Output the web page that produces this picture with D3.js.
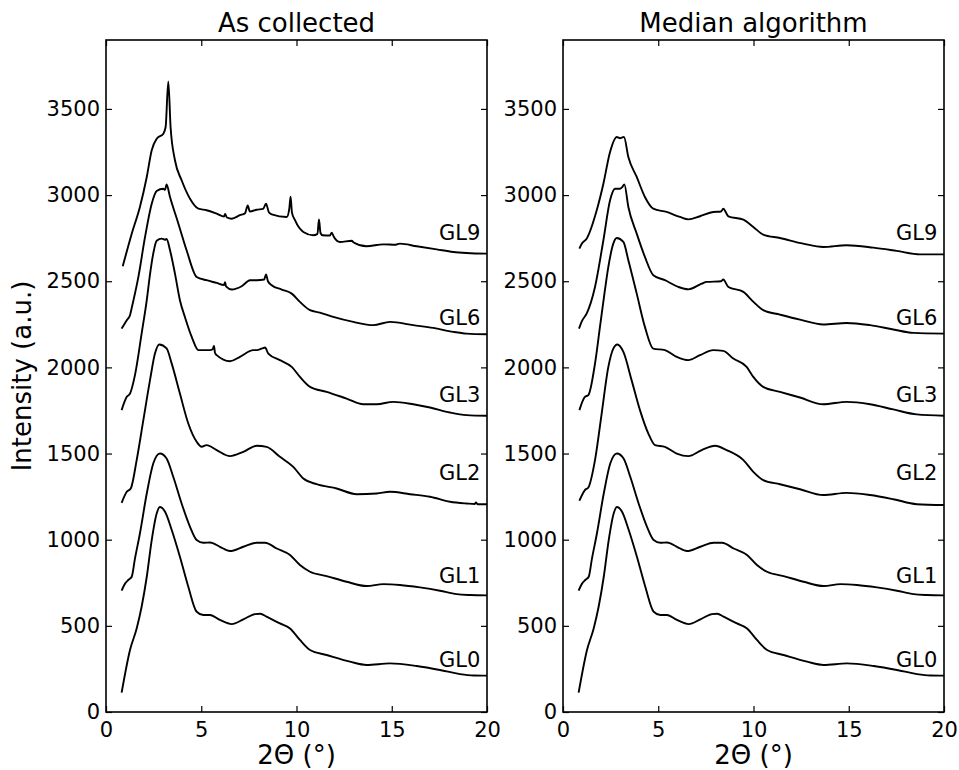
<!DOCTYPE html>
<html>
<head>
<meta charset="utf-8">
<script src="https://cdn.jsdelivr.net/npm/d3@7"></script>
<style>
  body { margin: 0; background: #fff; }
  text { font-family: "DejaVu Sans", sans-serif; }
</style>
</head>
<body>
<div id="chart"></div>
<script>
// 2Θ / intensity pairs
var gl0 = [[0.82,112],[1.26,360],[1.61,485],[1.87,611],[2.14,785],[2.4,998],[2.66,1152],[2.83,1190],[3.1,1162],[3.45,1056],[3.88,901],[4.32,727],[4.76,582],[5.11,563],[5.46,563],[5.98,534],[6.6,510],[7.21,538],[7.82,568],[8.1,570],[8.43,553],[9.13,514],[9.66,485],[10.18,418],[10.71,360],[11.58,331],[12.81,292],[13.68,273],[14.91,282],[16.31,267],[17.53,244],[18.58,220],[19.3,212],[20,211]];
var gl1 = [[0.82,704],[1.0,745],[1.17,766],[1.35,785],[1.52,890],[1.78,1036],[2.14,1268],[2.48,1442],[2.83,1500],[3.18,1471],[3.53,1365],[3.97,1210],[4.41,1075],[4.76,998],[5.11,982],[5.46,984],[5.98,959],[6.51,934],[7.21,959],[7.91,982],[8.35,982],[8.96,949],[9.66,911],[10.18,853],[10.71,814],[11.58,789],[12.63,756],[13.68,731],[14.56,742],[15.43,737],[16.48,723],[17.53,704],[18.41,684],[19.11,679],[20,677]];

// "As collected"
var rawGL2 = [[0.82,1214],[1.09,1278],[1.3,1297],[1.61,1462],[1.96,1694],[2.31,1926],[2.57,2080],[2.8,2133],[3.18,2110],[3.45,2022],[3.88,1848],[4.32,1674],[4.76,1568],[5.02,1539],[5.28,1549],[5.81,1520],[6.51,1485],[7.21,1510],[7.91,1545],[8.43,1539],[9.13,1481],[9.83,1423],[10.36,1355],[11.06,1322],[12.11,1297],[13.16,1264],[14.21,1268],[14.91,1278],[15.96,1264],[17.01,1249],[18.06,1220],[18.93,1210],[19.35,1207],[19.42,1216],[19.5,1206],[20,1206]];
var rawGL3 = [[0.82,1752],[1.09,1829],[1.26,1848],[1.52,1955],[1.87,2196],[2.14,2390],[2.31,2540],[2.48,2660],[2.66,2735],[2.92,2747],[3.1,2741],[3.18,2745],[3.36,2680],[3.62,2544],[3.88,2390],[4.15,2290],[4.5,2177],[4.85,2100],[5.46,2100],[5.6,2105],[5.67,2125],[5.72,2085],[5.81,2071],[6.51,2036],[7.03,2061],[7.73,2100],[7.91,2100],[8.2,2110],[8.35,2115],[8.52,2080],[9.13,2042],[9.75,2003],[10.18,1945],[10.71,1887],[11.58,1858],[12.63,1819],[13.51,1786],[14.21,1786],[15.08,1800],[16.13,1786],[17.01,1767],[18.06,1738],[18.93,1723],[20,1719]];
var rawGL6 = [[0.82,2225],[1.09,2274],[1.26,2303],[1.35,2345],[1.7,2525],[2.05,2757],[2.4,2950],[2.66,3024],[3.01,3037],[3.1,3030],[3.18,3062],[3.36,2989],[3.8,2834],[4.23,2680],[4.76,2525],[5.28,2506],[5.81,2490],[6.2,2478],[6.25,2495],[6.3,2470],[6.6,2452],[7.12,2471],[7.56,2506],[7.91,2506],[8.3,2510],[8.4,2540],[8.5,2500],[8.7,2477],[9.22,2452],[9.75,2428],[10.18,2380],[10.71,2332],[11.23,2318],[11.93,2293],[12.98,2264],[14.03,2245],[14.91,2264],[16.13,2245],[17.18,2229],[18.23,2206],[18.93,2196],[20,2192]];
var rawGL9 = [[0.88,2587],[1.35,2776],[1.78,2931],[2.14,3105],[2.4,3260],[2.66,3327],[3.01,3356],[3.13,3395],[3.27,3660],[3.39,3395],[3.62,3202],[3.97,3086],[4.41,2979],[4.85,2921],[5.28,2912],[5.81,2892],[6.2,2875],[6.25,2890],[6.35,2870],[6.6,2863],[7.03,2883],[7.3,2895],[7.44,2940],[7.55,2905],[7.91,2915],[8.25,2920],[8.4,2950],[8.55,2900],[8.7,2888],[9.49,2873],[9.62,2920],[9.69,2990],[9.76,2900],[9.92,2854],[10.36,2786],[10.88,2767],[11.1,2775],[11.18,2858],[11.26,2780],[11.37,2767],[11.75,2765],[11.85,2782],[11.95,2760],[12.28,2728],[12.9,2735],[13.0,2725],[13.68,2703],[14.56,2714],[15.2,2712],[15.43,2718],[16.31,2703],[17.36,2685],[18.23,2670],[18.93,2664],[20,2660]];

// "Median algorithm"
var medGL2 = [[0.86,1226],[1.15,1288],[1.33,1303],[1.68,1462],[2.03,1732],[2.38,2003],[2.64,2109],[2.85,2133],[3.17,2090],[3.6,1926],[4.04,1752],[4.48,1616],[4.83,1549],[5.35,1539],[5.97,1500],[6.58,1485],[7.28,1520],[7.98,1545],[8.59,1520],[9.47,1462],[9.99,1394],[10.51,1346],[11.39,1322],[12.44,1293],[13.66,1259],[14.89,1272],[16.12,1259],[17.34,1235],[18.57,1206],[20,1201]];
var medGL3 = [[0.86,1752],[1.15,1829],[1.33,1839],[1.68,2022],[1.94,2235],[2.2,2448],[2.38,2583],[2.64,2718],[2.82,2751],[3.17,2728],[3.43,2622],[3.87,2428],[4.3,2235],[4.74,2109],[5.35,2100],[5.97,2061],[6.58,2042],[7.19,2071],[7.89,2100],[8.41,2096],[8.94,2051],[9.64,2003],[9.99,1945],[10.51,1887],[11.39,1858],[12.44,1825],[13.66,1786],[14.89,1800],[16.12,1786],[17.34,1756],[18.57,1727],[20,1719]];
var medGL6 = [[0.84,2225],[1.0,2270],[1.24,2312],[1.68,2467],[2.12,2738],[2.47,2970],[2.73,3037],[2.99,3037],[3.1,3045],[3.22,3062],[3.43,2931],[3.87,2776],[4.3,2641],[4.74,2535],[5.35,2506],[6.05,2467],[6.58,2453],[7.28,2486],[7.54,2496],[8.3,2500],[8.41,2510],[8.68,2467],[9.47,2438],[10.0,2380],[10.51,2332],[11.39,2306],[12.44,2277],[13.66,2249],[14.89,2258],[16.12,2245],[17.34,2220],[18.39,2200],[20,2196]];
var medGL9 = [[0.86,2689],[1.0,2720],[1.24,2747],[1.77,2912],[2.12,3066],[2.47,3250],[2.82,3337],[3.0,3330],[3.08,3333],[3.2,3337],[3.43,3221],[3.87,3105],[4.3,2989],[4.74,2921],[5.44,2902],[6.14,2873],[6.58,2859],[7.19,2877],[7.89,2902],[8.3,2905],[8.41,2921],[8.68,2877],[9.47,2857],[9.99,2815],[10.51,2771],[11.39,2751],[12.61,2718],[13.66,2699],[14.89,2709],[16.29,2695],[17.52,2676],[18.74,2656],[20,2656]];

var names = ["GL0", "GL1", "GL2", "GL3", "GL6", "GL9"];
var nameY = [261, 748, 1346, 1798, 2245, 2738];   // label anchor (intensity)
var xTicks = [0, 5, 10, 15, 20];
var yTicks = [0, 500, 1000, 1500, 2000, 2500, 3000, 3500];

var W = 959, H = 770;
var plotTop = 40, plotBottom = 712, plotW = 381;
var panels = [
    { left: 106, title: "As collected", series: [gl0, gl1, rawGL2, rawGL3, rawGL6, rawGL9] },
    { left: 563, title: "Median algorithm", series: [gl0, gl1, medGL2, medGL3, medGL6, medGL9] }
];

var svg = d3.select("#chart").append("svg")
    .attr("width", W)
    .attr("height", H);

var h = plotBottom - plotTop;
var x = d3.scaleLinear().domain([0, 20]).range([0, plotW]);
var y = d3.scaleLinear().domain([0, 3900]).range([h, 0]);

var line = d3.line()
    .curve(d3.curveMonotoneX)
    .x(d => x(d[0]))
    .y(d => y(d[1]));

function styleAxis(g) {
    g.attr("font-size", 21).attr("font-family", "DejaVu Sans, sans-serif");
    g.select(".domain").remove();
    g.selectAll(".tick line").attr("stroke", "#000").attr("stroke-width", 1.2);
    g.selectAll(".tick text").attr("fill", "#000");
}

panels.forEach(function (p) {
    var g = svg.append("g").attr("transform", "translate(" + p.left + "," + plotTop + ")");

    // 軸 (ticks inward on all four sides)
    g.append("g").attr("transform", "translate(0," + h + ")")
        .call(d3.axisBottom(x).tickValues(xTicks).tickFormat(d3.format("d")).tickSize(-6).tickPadding(10)).call(styleAxis);
    g.append("g")
        .call(d3.axisTop(x).tickValues(xTicks).tickSize(-6).tickFormat("")).call(styleAxis);
    g.append("g")
        .call(d3.axisLeft(y).tickValues(yTicks).tickFormat(d3.format("d")).tickSize(-6).tickPadding(6)).call(styleAxis);
    g.append("g").attr("transform", "translate(" + plotW + ",0)")
        .call(d3.axisRight(y).tickValues(yTicks).tickSize(-6).tickFormat("")).call(styleAxis);

    // curves
    p.series.forEach(function (s, i) {
        g.append("path")
            .datum(s)
            .attr("fill", "none")
            .attr("stroke", "#000")
            .attr("stroke-width", 1.9)
            .attr("stroke-linejoin", "round")
            .attr("d", line);

        g.append("text")
            .attr("x", x(19.65))
            .attr("y", y(nameY[i]))
            .attr("text-anchor", "end")
            .attr("font-size", 21)
            .text(names[i]);
    });

    // frame
    g.append("rect")
        .attr("width", plotW)
        .attr("height", h)
        .attr("fill", "none")
        .attr("stroke", "#000")
        .attr("stroke-width", 1.6);

    // title
    g.append("text")
        .attr("x", plotW / 2)
        .attr("y", -8)
        .attr("text-anchor", "middle")
        .attr("font-size", 26)
        .text(p.title);

    // x label
    g.append("text")
        .attr("x", plotW / 2)
        .attr("y", h + 52)
        .attr("text-anchor", "middle")
        .attr("font-size", 26)
        .text("2Θ (°)");
});

// y label
svg.append("text")
    .attr("transform", "translate(31," + (plotTop + h / 2) + ") rotate(-90)")
    .attr("text-anchor", "middle")
    .attr("font-size", 26)
    .text("Intensity (a.u.)");
</script>
</body>
</html>
